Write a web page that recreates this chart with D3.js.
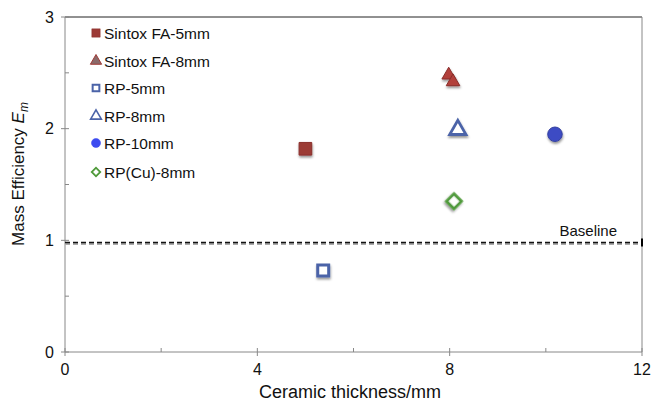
<!DOCTYPE html>
<html><head><meta charset="utf-8">
<script src="https://cdn.jsdelivr.net/npm/d3@7"></script>
<style>body{margin:0;background:#fff;}svg{display:block;font-family:"Liberation Sans",Arial,sans-serif;}</style>
</head><body>
<script>
const seriesNames = ["Sintox FA-5mm","Sintox FA-8mm","RP-5mm","RP-8mm","RP-10mm","RP(Cu)-8mm"];
const sintox5 = [[5.0, 1.82]];
const sintox8 = [[7.98, 2.48],[8.07, 2.42]];
const rp5 = [[5.37, 0.73]];
const rp8 = [[8.17, 1.99]];
const rp10 = [[10.19, 1.95]];
const rpcu8 = [[8.09, 1.35]];
const baselineValue = 0.98;
const xTicks = [0,4,8,12];
const yTicks = [0,1,2,3];

const W=652,H=404;
const svg=d3.select("body").append("svg").attr("width",W).attr("height",H);
const defs=svg.append("defs");
const f=defs.append("filter").attr("id","sh").attr("x","-50%").attr("y","-50%").attr("width","200%").attr("height","200%");
f.append("feDropShadow").attr("dx",0.5).attr("dy",2).attr("stdDeviation",1.2).attr("flood-color","#000").attr("flood-opacity",0.4);

const x=d3.scaleLinear().domain([0,12]).range([65,642]);
const y=d3.scaleLinear().domain([0,3]).range([352,17]);

// frame
svg.append("line").attr("x1",x(0)).attr("x2",x(12)).attr("y1",y(3)).attr("y2",y(3)).attr("stroke","#222").attr("stroke-width",1);
svg.append("line").attr("x1",x(12)).attr("x2",x(12)).attr("y1",y(3)).attr("y2",y(0)).attr("stroke","#888");

// x axis
const gx=svg.append("g").attr("transform",`translate(0,${y(0)})`);
gx.append("line").attr("x1",x(0)).attr("x2",x(12)).attr("stroke","#888");
[2,6,10].forEach(v=>gx.append("line").attr("x1",x(v)).attr("x2",x(v)).attr("y1",0).attr("y2",-4).attr("stroke","#888"));
xTicks.forEach(v=>{
  gx.append("line").attr("x1",x(v)).attr("x2",x(v)).attr("y1",-4).attr("y2",4).attr("stroke","#888");
  gx.append("text").attr("x",x(v)).attr("y",23).attr("text-anchor","middle").attr("font-size",16).attr("fill","#111").text(v);
});
// y axis
const gy=svg.append("g").attr("transform",`translate(${x(0)},0)`);
gy.append("line").attr("y1",y(0)).attr("y2",y(3)).attr("stroke","#888");
[0.5,1.5,2.5].forEach(v=>gy.append("line").attr("y1",y(v)).attr("y2",y(v)).attr("x1",0).attr("x2",4).attr("stroke","#888"));
yTicks.forEach(v=>{
  gy.append("line").attr("y1",y(v)).attr("y2",y(v)).attr("x1",-4).attr("x2",4).attr("stroke","#888");
  gy.append("text").attr("x",-11).attr("y",y(v)+5.5).attr("text-anchor","end").attr("font-size",16).attr("fill","#111").text(v);
});

svg.append("text").attr("x",350).attr("y",398).attr("text-anchor","middle").attr("font-size",18).attr("fill","#111").text("Ceramic thickness/mm");
const yl=svg.append("text").attr("transform","translate(24,174) rotate(-90)").attr("text-anchor","middle").attr("font-size",17).attr("fill","#111");
yl.append("tspan").text("Mass Efficiency ");
yl.append("tspan").attr("font-style","italic").text("E");
yl.append("tspan").attr("font-style","italic").attr("font-size",12).attr("dy",4).text("m");

// baseline
svg.append("line").attr("x1",x(0)).attr("x2",x(12)).attr("y1",y(baselineValue)+1.5).attr("y2",y(baselineValue)+1.5).attr("stroke","#aaa").attr("stroke-width",2).attr("stroke-dasharray","5,3");
svg.append("line").attr("x1",x(0)).attr("x2",x(12)).attr("y1",y(baselineValue)).attr("y2",y(baselineValue)).attr("stroke","#111").attr("stroke-width",1.5).attr("stroke-dasharray","5,3");
svg.append("line").attr("x1",x(12)).attr("x2",x(12)).attr("y1",y(baselineValue)-4).attr("y2",y(baselineValue)+4).attr("stroke","#000").attr("stroke-width",2);
svg.append("text").attr("x",617).attr("y",y(baselineValue)-7).attr("text-anchor","end").attr("font-size",15).attr("fill","#111").text("Baseline");

const sq45=d3.symbol(d3.symbolSquare,110)();
const styles=[
  {d:d3.symbol(d3.symbolSquare,160)(),fill:"#9c3a36",stroke:"#8a302c",sw:1,rot:0},
  {d:d3.symbol(d3.symbolTriangle,80)(),fill:"#b2403b",stroke:"#8a2e2a",sw:1,rot:0},
  {d:d3.symbol(d3.symbolSquare,120)(),fill:"#fff",stroke:"#4b63a8",sw:3,rot:0},
  {d:d3.symbol(d3.symbolTriangle,115)(),fill:"#fff",stroke:"#4b63a8",sw:2.8,rot:0},
  {d:d3.symbol(d3.symbolCircle,165)(),fill:"#3c4bc4",stroke:"#35419f",sw:1,rot:0},
  {d:sq45,fill:"#fff",stroke:"#4f9a3a",sw:2.8,rot:45}
];
const data=[sintox5,sintox8,rp5,rp8,rp10,rpcu8];
data.forEach((arr,i)=>{
  const s=styles[i];
  svg.append("g").selectAll("path").data(arr).join("path")
    .attr("d",s.d).attr("transform",d=>`translate(${x(d[0])},${y(d[1])}) rotate(${s.rot})`)
    .attr("fill",s.fill).attr("stroke",s.stroke).attr("stroke-width",s.sw).attr("filter","url(#sh)");
});

// legend
const legY=[33,61,88,116,143,172];
const legStyles=[
  {d:d3.symbol(d3.symbolSquare,70)(),fill:"#9c3a36",stroke:"#8a302c",sw:0.5,rot:0},
  {d:d3.symbol(d3.symbolTriangle,55)(),fill:"#8a6a6a",stroke:"#a03a36",sw:1,rot:0},
  {d:d3.symbol(d3.symbolSquare,45)(),fill:"#fff",stroke:"#4b63a8",sw:2,rot:0},
  {d:d3.symbol(d3.symbolTriangle,50)(),fill:"#fff",stroke:"#4b63a8",sw:1.6,rot:0},
  {d:d3.symbol(d3.symbolCircle,65)(),fill:"#3c4bf0",stroke:"#3c4bf0",sw:0.5,rot:0},
  {d:d3.symbol(d3.symbolSquare,36)(),fill:"#fff",stroke:"#4f9a3a",sw:1.8,rot:45}
];
seriesNames.forEach((n,i)=>{
  const s=legStyles[i];
  svg.append("path").attr("d",s.d).attr("transform",`translate(96,${legY[i]}) rotate(${s.rot})`).attr("fill",s.fill).attr("stroke",s.stroke).attr("stroke-width",s.sw);
  svg.append("text").attr("x",104).attr("y",legY[i]+5.5).attr("font-size",15.5).attr("fill","#111").text(n);
});
</script>
</body></html>
